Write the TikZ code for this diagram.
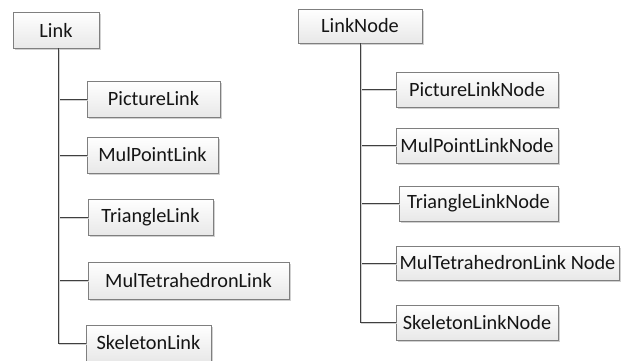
\documentclass[tikz,border=0pt]{standalone}
\usepackage{fontspec}
\setmainfont{Carlito}
\usetikzlibrary{shadows}
\definecolor{boxborder}{HTML}{7F7F7F}
\definecolor{linecol}{HTML}{404040}
\definecolor{txtcol}{HTML}{151515}
\tikzset{
  classbox/.style={draw=boxborder, line width=0.9pt, rectangle, inner sep=0pt,
    top color=white, bottom color=black!9, text=txtcol,
    font=\fontsize{20.3}{24}\selectfont,
    drop shadow={shadow xshift=2pt, shadow yshift=-2pt, fill=black!18, opacity=1}},
  conn/.style={draw=linecol, line width=0.8pt,
    preaction={draw=black!18, line width=0.8pt, transform canvas={xshift=1pt, yshift=-1.2pt}}}
}
\begin{document}
\begin{tikzpicture}[x=1pt, y=-1pt]
\useasboundingbox (0,0) rectangle (622,360);
% left tree
\node[classbox, minimum width=86pt, minimum height=36pt] (link) at (56,30) {Link};
\node[classbox, minimum width=133pt, minimum height=36pt] (pic) at (153.5,99) {PictureLink};
\node[classbox, minimum width=131pt, minimum height=36pt] (mul) at (152.5,155) {MulPointLink};
\node[classbox, minimum width=125pt, minimum height=36pt] (tri) at (150.5,217) {TriangleLink};
\node[classbox, minimum width=201pt, minimum height=37pt] (tet) at (188.5,280.5) {MulTetrahedronLink};
\node[classbox, minimum width=125pt, minimum height=36pt] (ske) at (148.5,343) {SkeletonLink};
\coordinate (lt) at (58,48);
\foreach \c in {pic,mul,tri,tet,ske} {
  \draw[conn] (lt) |- (\c.west);
}
% right tree
\node[classbox, minimum width=124pt, minimum height=34pt] (lnode) at (360,26) {LinkNode};
\node[classbox, minimum width=162pt, minimum height=35pt] (npic) at (477,89.5) {PictureLinkNode};
\node[classbox, minimum width=162pt, minimum height=35pt] (nmul) at (477,145.5) {MulPointLinkNode};
\node[classbox, minimum width=159pt, minimum height=35pt] (ntri) at (478.5,203.5) {TriangleLinkNode};
\node[classbox, minimum width=223pt, minimum height=34pt] (ntet) at (507.5,263) {MulTetrahedronLink Node};
\node[classbox, minimum width=162pt, minimum height=35pt] (nske) at (477,322.5) {SkeletonLinkNode};
\foreach \c in {npic,nmul,ntri,ntet,nske} {
  \draw[conn] (lnode.south) |- (\c.west);
}
\end{tikzpicture}
\end{document}
